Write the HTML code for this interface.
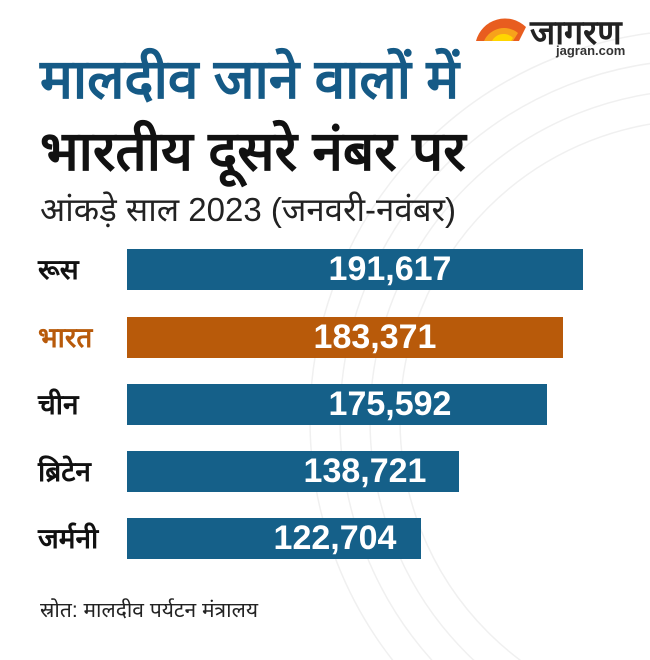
<!DOCTYPE html>
<html><head><meta charset="utf-8"><style>
html,body{margin:0;overflow:hidden;width:650px;height:660px}
#c{position:relative;width:650px;height:660px;background:#fff;overflow:hidden;font-family:"Liberation Sans",sans-serif}
.t{position:absolute;white-space:nowrap;font-weight:bold}
.bar{position:absolute;left:127px;height:41px}
.v{position:absolute;color:#fff;font-weight:bold;font-size:34px;line-height:41px;text-align:center}
.l{position:absolute;left:38px;font-size:28px;font-weight:bold;color:#111;line-height:41px}
</style></head><body><div id="c">
<svg width="650" height="660" style="position:absolute;left:0;top:0">
<g fill="none" stroke="#f0f0f0" stroke-width="1.5">
<circle cx="700" cy="420" r="300"/><circle cx="700" cy="420" r="330"/><circle cx="700" cy="420" r="360"/><circle cx="700" cy="420" r="390"/>
</g>
<path d="M476 41 A30 30 0 0 1 526 27 L519 41 Z" fill="#e85d1f"/>
<path d="M484 41 A22 22 0 0 1 518 33 L513 41 Z" fill="#f7a21b"/>
<path d="M492 41 A13 13 0 0 1 513 38 L511 41Z" fill="#ffd600"/>
</svg>
<div class="t" style="left:530px;top:8px;font-size:34px;color:#222">जागरण</div>
<div class="t" style="left:556px;top:43px;font-size:13px;color:#333">jagran.com</div>
<div class="t" style="left:40px;top:40px;font-size:55px;color:#155a86">मालदीव जाने वालों में</div>
<div class="t" style="left:40px;top:112px;font-size:55px;color:#111">भारतीय दूसरे नंबर पर</div>
<div class="t" style="left:40px;top:186px;font-size:33px;color:#222;font-weight:normal">आंकड़े साल 2023 (जनवरी-नवंबर)</div>
<div class="l" style="top:249px">रूस</div>
<div class="l" style="top:317px;color:#b85a0a">भारत</div>
<div class="l" style="top:384px">चीन</div>
<div class="l" style="top:451px">ब्रिटेन</div>
<div class="l" style="top:518px">जर्मनी</div>
<div class="bar" style="top:249px;width:456px;background:#156089"></div>
<div class="bar" style="top:317px;width:436px;background:#b85a0a"></div>
<div class="bar" style="top:384px;width:420px;background:#156089"></div>
<div class="bar" style="top:451px;width:332px;background:#156089"></div>
<div class="bar" style="top:518px;width:294px;background:#156089"></div>
<div class="v" style="left:305px;width:170px;top:249px">191,617</div>
<div class="v" style="left:290px;width:170px;top:317px">183,371</div>
<div class="v" style="left:305px;width:170px;top:384px">175,592</div>
<div class="v" style="left:280px;width:170px;top:451px">138,721</div>
<div class="v" style="left:250px;width:170px;top:518px">122,704</div>
<div class="t" style="left:40px;top:596px;font-size:21px;color:#222;font-weight:normal">स्रोत:  मालदीव पर्यटन मंत्रालय</div>
</div></body></html>
